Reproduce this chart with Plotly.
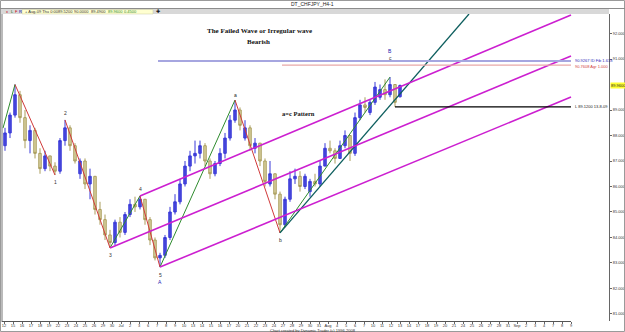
import plotly.graph_objects as go

W, H = 625, 332

# ---------------- data (H4 bars, CHFJPY) ----------------
opens = [87.6, 88.1, 88.8, 89.6, 88.7, 87.8, 88.2, 87.3, 86.7, 87.2,
         86.8, 86.6, 87.8, 88.3, 87.6, 86.5, 87.0, 86.1, 86.4, 85.1,
         84.7, 84.1, 83.8, 84.6, 84.2, 84.9, 85.3, 85.2, 85.5, 84.7,
         83.9, 83.2, 83.3, 84.0, 85.0, 85.4, 86.1, 86.8, 87.2, 87.3,
         87.6, 87.0, 86.5, 86.9, 87.3, 87.9, 88.6, 89.0, 87.9, 88.3,
         87.5, 87.7, 87.0, 86.1, 86.5, 85.7, 84.5, 85.5, 86.3, 86.4,
         86.0, 85.8, 86.2, 86.1, 86.8, 87.5, 87.4, 87.1, 87.6, 88.0,
         87.3, 88.7, 89.2, 88.9, 89.3, 89.5, 89.8, 89.6, 90.0, 89.52]
highs = [88.3, 88.9, 90.0, 89.75, 89.0, 88.4, 88.3, 87.5, 87.4, 87.2,
         86.95, 87.9, 88.61, 88.4, 87.7, 87.1, 87.1, 86.7, 86.4, 85.4,
         84.9, 84.3, 84.7, 84.8, 85.0, 85.5, 85.6, 85.63, 85.5, 84.8,
         84.0, 83.4, 84.1, 85.2, 85.7, 86.3, 87.0, 87.4, 87.8, 87.8,
         87.7, 87.1, 87.0, 87.5, 88.1, 88.8, 89.39, 89.1, 88.6, 88.4,
         87.9, 87.7, 87.1, 87.0, 86.5, 85.8, 85.6, 86.6, 86.7, 86.6,
         86.5, 86.3, 86.5, 87.0, 87.7, 87.8, 87.5, 87.8, 88.2, 88.0,
         88.9, 89.4, 89.5, 89.4, 90.1, 90.0, 90.2, 90.29, 90.0, 90.0]
lows = [87.4, 87.9, 88.7, 88.5, 87.5, 87.3, 87.1, 86.5, 86.6, 86.6,
        86.45, 86.5, 87.6, 87.4, 86.9, 86.3, 85.9, 85.5, 84.9, 84.5,
        83.9, 83.59, 83.7, 84.0, 84.1, 84.8, 85.0, 85.1, 84.5, 83.7,
        83.1, 82.84, 83.2, 83.9, 84.9, 85.3, 86.0, 86.6, 86.9, 87.1,
        86.8, 86.3, 86.4, 86.8, 87.1, 87.8, 88.5, 88.2, 87.8, 87.4,
        87.3, 86.8, 86.0, 86.0, 85.5, 84.18, 84.4, 85.4, 86.1, 85.8,
        85.9, 85.6, 86.0, 86.0, 86.8, 87.3, 86.9, 87.1, 87.5, 87.0,
        87.2, 88.6, 88.9, 88.8, 89.2, 89.4, 89.4, 89.5, 89.12, 89.49]
closes = [88.1, 88.8, 89.6, 88.7, 87.8, 88.2, 87.3, 86.7, 87.2, 86.8,
          86.6, 87.8, 88.3, 87.6, 87.0, 87.0, 86.1, 86.4, 85.1, 84.7,
          84.1, 83.8, 84.6, 84.2, 84.9, 85.3, 85.2, 85.5, 84.7, 83.9,
          83.2, 83.3, 84.0, 85.0, 85.4, 86.1, 86.8, 87.2, 87.3, 87.6,
          87.0, 86.5, 86.9, 87.3, 87.9, 88.6, 89.0, 88.4, 88.3, 87.6,
          87.7, 87.0, 86.2, 86.5, 85.7, 84.5, 85.5, 86.3, 86.4, 86.0,
          86.4, 86.2, 86.1, 86.8, 87.5, 87.4, 87.1, 87.6, 88.0, 87.3,
          88.7, 89.2, 89.1, 89.3, 89.9, 89.8, 89.6, 90.0, 89.3, 89.96]
bars = list(range(len(closes)))

# wave pivots (bar index, price)
pivot_x = [-0.4, 2, 10, 12, 21, 27, 31, 46, 55, 77]
pivot_y = [88.29, 90.0, 86.45, 88.61, 83.59, 85.63, 82.84, 89.39, 84.18, 90.29]
up_legs = [(0, 1), (4, 5), (6, 7), (8, 9)]
down_legs = [(1, 2), (3, 4), (5, 6), (7, 8)]
pivot_labels = [(2, "1", -7, "#333333"), (3, "2", 7, "#333333"), (4, "3", -7, "#333333"),
                (5, "4", 7, "#333333"), (6, "5", -8, "#333333"), (7, "a", 5, "#222222"),
                (8, "b", -7, "#222222"), (9, "c", 19, "#333333")]

# trend line from b
trend_x = [55, 92.8]
trend_y = [84.18, 92.765]

# parallel channel (pitchfork) lines
chan_upper_x, chan_upper_y = [27, 113.2], [85.63, 92.73]
chan_mid_x, chan_mid_y = [21, 113.2], [83.59, 91.12]
chan_low_x, chan_low_y = [31, 113.2], [82.84, 89.51]

# horizontal levels
fib_x, fib_level = [30.6, 113.2], 90.92
agr_x, agr_level = [55.4, 113.2], 90.76
low_x, low_level = [78, 113.2], 89.12
last_price = 89.96

price_ticks = [81, 82, 83, 84, 85, 86, 87, 88, 89, 91, 92]
date_labels = ["12", "15", "16", "17", "18", "19", "22", "23", "24", "25", "26", "29", "30",
               "Jul", "2", "3", "6", "7", "8", "9", "10", "13", "14", "15", "16", "17", "20",
               "21", "22", "23", "24", "27", "28", "29", "30", "31",
               "Aug", "4", "5", "6", "7", "10", "11", "12", "13", "14", "17", "18", "19",
               "20", "21", "24", "25", "26", "27", "28", "31",
               "Sep", "2", "3", "4", "7", "8", "9"]

# ---------------- figure ----------------
def px(x):
    return x / W

def py(y):
    return 1 - y / H

fig = go.Figure()

fig.add_trace(go.Candlestick(
    x=bars, open=opens, high=highs, low=lows, close=closes,
    increasing=dict(line=dict(color="#3a3ad8", width=1), fillcolor="#4848dc"),
    decreasing=dict(line=dict(color="#aa9d5c", width=1), fillcolor="#d9d0a0"),
    whiskerwidth=0, hoverinfo="skip"))

for a, b in up_legs:
    fig.add_trace(go.Scatter(x=[pivot_x[a], pivot_x[b]], y=[pivot_y[a], pivot_y[b]],
                             mode="lines", line=dict(color="#2e8b2e", width=1), hoverinfo="skip"))
for a, b in down_legs:
    fig.add_trace(go.Scatter(x=[pivot_x[a], pivot_x[b]], y=[pivot_y[a], pivot_y[b]],
                             mode="lines", line=dict(color="#d03a3a", width=1), hoverinfo="skip"))

fig.add_trace(go.Scatter(x=trend_x, y=trend_y, mode="lines",
                         line=dict(color="#0d5e5e", width=1.3), hoverinfo="skip"))

for cx, cy in [(chan_upper_x, chan_upper_y), (chan_mid_x, chan_mid_y), (chan_low_x, chan_low_y)]:
    fig.add_trace(go.Scatter(x=cx, y=cy, mode="lines",
                             line=dict(color="#cc1fd0", width=1.6), hoverinfo="skip"))

fig.add_trace(go.Scatter(x=fib_x, y=[fib_level, fib_level], mode="lines",
                         line=dict(color="#a6a6e0", width=2), hoverinfo="skip"))
fig.add_trace(go.Scatter(x=agr_x, y=[agr_level, agr_level], mode="lines",
                         line=dict(color="#e8a8a8", width=1.3), hoverinfo="skip"))
fig.add_trace(go.Scatter(x=low_x, y=[low_level, low_level], mode="lines",
                         line=dict(color="#000000", width=1.3), hoverinfo="skip"))

tick_vals = [(4 + 9 * k - 5) / 5 for k in range(len(date_labels))]

fig.update_layout(
    width=W, height=H, margin=dict(l=0, r=0, t=0, b=0),
    paper_bgcolor="white", plot_bgcolor="white", showlegend=False,
    font=dict(family="Arial", color="#333333"),
    xaxis=dict(domain=[px(2), px(609)], range=[-0.6, 120.8], showgrid=False, zeroline=False,
               showline=False, tickmode="array", tickvals=tick_vals, ticktext=date_labels,
               ticks="outside", ticklen=2, tickcolor="#666666", tickangle=0,
               ticklabelstandoff=-2,
               tickfont=dict(size=4, color="#333333"), rangeslider=dict(visible=False),
               automargin=False),
    yaxis=dict(domain=[py(321), py(14)], range=[80.725, 92.765], side="right", showgrid=False,
               zeroline=False, showline=True, linecolor="#666666", linewidth=1,
               tickmode="array", tickvals=price_ticks,
               ticktext=["%.3f" % v for v in price_ticks], ticks="outside", ticklen=2,
               ticklabeloverflow="allow", ticklabelstandoff=0,
               tickcolor="#666666", tickfont=dict(size=4, color="#333333"), automargin=False),
)

shapes = [
    dict(type="rect", xref="paper", yref="paper", x0=px(0.5), x1=px(624.5), y0=py(331.5), y1=py(0.5),
         line=dict(color="#9a9a9a", width=1)),
    dict(type="rect", xref="paper", yref="paper", x0=px(1), x1=px(609), y0=py(14), y1=py(8.5),
         fillcolor="#d8d8d8", line=dict(width=0), layer="below"),
    dict(type="line", xref="paper", yref="paper", x0=px(0), x1=px(625), y0=py(8.5), y1=py(8.5),
         line=dict(color="#8c8c8c", width=1)),
    dict(type="rect", xref="paper", yref="paper", x0=px(22), x1=px(153), y0=py(14), y1=py(9.5),
         fillcolor="#ffffd0", line=dict(color="#c8c8a0", width=0.5)),
    dict(type="line", xref="paper", yref="paper", x0=px(2), x1=px(2), y0=py(322), y1=py(14),
         line=dict(color="#777777", width=1)),
    dict(type="line", xref="paper", yref="paper", x0=px(2), x1=px(571), y0=py(321.5), y1=py(321.5),
         line=dict(color="#555555", width=1)),
]
fig.update_layout(shapes=shapes)

ann = []
def txt(x, y, s, size=4, color="#333333", xanchor="center", bold=False, family="Arial",
        bg=None, xref="paper", yref="paper", yshift=0):
    d = dict(x=x, y=y, xref=xref, yref=yref, text=("<b>%s</b>" % s if bold else s),
             showarrow=False, xanchor=xanchor, yanchor="middle", yshift=yshift,
             font=dict(size=size, color=color, family=family))
    if bg:
        d["bgcolor"] = bg
        d["borderpad"] = 0
    ann.append(d)

txt(px(312), py(4), "DT_CHFJPY_H4-1", size=5, color="#222222")
txt(px(4), py(11.5), "x", size=4, color="#cc0000", xanchor="left")
txt(px(9), py(11.5), "L", size=4, color="#006600", xanchor="left")
txt(px(13), py(11.5), "F", size=4, color="#cc0000", xanchor="left")
txt(px(17), py(11.5), "R", size=4, color="#0000aa", xanchor="left")
txt(px(23), py(11.7), "+ Aug-09 Thu 0:00", size=4, color="#333333", xanchor="left")
txt(px(56), py(11.7), "89.5200", size=4, color="#333333", xanchor="left")
txt(px(72), py(11.7), "90.0000", size=4, color="#333333", xanchor="left")
txt(px(89), py(11.7), "89.4900", size=4, color="#333333", xanchor="left")
txt(px(106), py(11.7), "89.9600", size=4, color="#2e8b2e", xanchor="left")
txt(px(122), py(11.7), "0.4500", size=4, color="#2e8b2e", xanchor="left")
txt(px(158), py(11.5), "✚", size=5, color="#111111")

txt(px(259), py(31), "The Failed Wave or Irregular wave", size=7, color="#111111", bold=True,
    family="Liberation Serif")
txt(px(258), py(42), "Bearish", size=7, color="#111111", bold=True, family="Liberation Serif")
txt(px(298), py(113), "a=c Pattern", size=6.5, color="#111111", bold=True, family="Liberation Serif")

for idx, lab, shift, col in pivot_labels:
    txt(pivot_x[idx], pivot_y[idx], lab, size=5, color=col, xref="x", yref="y", yshift=shift)
txt(pivot_x[6], pivot_y[6], "A", size=5, color="#2020b0", xref="x", yref="y", yshift=-15)
txt(pivot_x[9], pivot_y[9], "B", size=5, color="#2020b0", xref="x", yref="y", yshift=26)

txt(fib_x[1] + 0.3, fib_level, "90.9267 ID Fib 1.618", size=4, color="#2a2ab8",
    xanchor="left", xref="x", yref="y", yshift=1)
txt(agr_x[1] + 0.3, agr_level, "90.7608 Agr 1.000", size=4, color="#d04040",
    xanchor="left", xref="x", yref="y", yshift=-1)
txt(low_x[1] + 0.3, low_level, "L 89.1200 13-8-09", size=4, color="#222222",
    xanchor="left", xref="x", yref="y")
txt(px(610), last_price, "%.4f" % last_price, size=4, color="#222222", xanchor="left",
    yref="y", bg="#ffff33")
txt(px(313), py(330), "Chart created by Dynamic Trader (c) 1996-2008", size=4, color="#333333")

fig.update_layout(annotations=ann)

fig.write_html("out.html")
